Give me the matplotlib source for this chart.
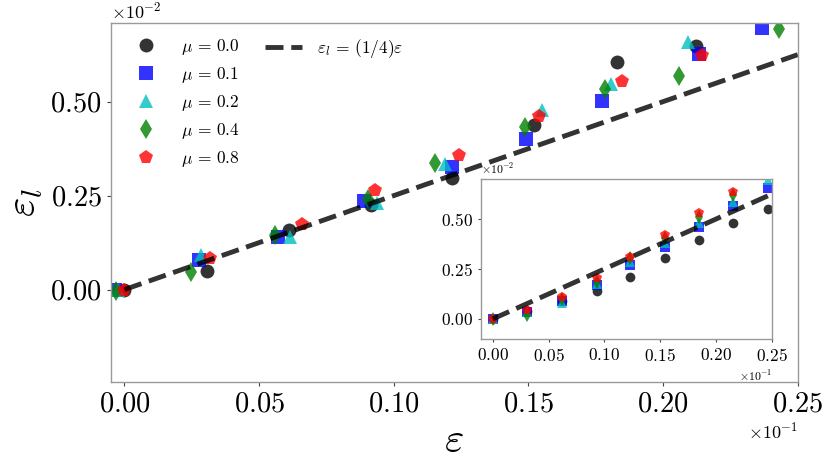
import numpy as np
import matplotlib
matplotlib.use("Agg")
import matplotlib.pyplot as plt
from matplotlib.ticker import ScalarFormatter
from matplotlib.lines import Line2D

plt.rcParams['font.family'] = 'serif'
plt.rcParams['font.serif'] = ['cmr10', 'DejaVu Serif']
plt.rcParams['mathtext.fontset'] = 'cm'
plt.rcParams['axes.formatter.use_mathtext'] = True
plt.rcParams['axes.unicode_minus'] = False

# ---- data (x in units of 1e-1, y in units of 1e-2) ----
mu_labels = [r'$\mu\,=\,0.0$', r'$\mu\,=\,0.1$', r'$\mu\,=\,0.2$', r'$\mu\,=\,0.4$', r'$\mu\,=\,0.8$']
colors = ['black', 'blue', 'c', 'g', 'r']
markers = ['o', 's', '^', 'd', 'p']

# main panel
main_x_mu00 = [0.0, 0.0308, 0.0612, 0.0915, 0.1215, 0.152, 0.1828, 0.2122]
main_y_mu00 = [0.0, 0.050, 0.158, 0.224, 0.296, 0.439, 0.606, 0.648]
main_x_mu01 = [-0.0035, 0.0277, 0.057, 0.089, 0.1215, 0.149, 0.1774, 0.2133, 0.2368]
main_y_mu01 = [0.0, 0.078, 0.140, 0.236, 0.326, 0.401, 0.501, 0.626, 0.695]
main_x_mu02 = [-0.0025, 0.0285, 0.0615, 0.0937, 0.119, 0.155, 0.1805, 0.2094]
main_y_mu02 = [0.0, 0.092, 0.140, 0.231, 0.335, 0.479, 0.548, 0.659]
main_x_mu04 = [-0.0032, 0.0246, 0.056, 0.0906, 0.1153, 0.1487, 0.1784, 0.206, 0.243]
main_y_mu04 = [-0.005, 0.047, 0.145, 0.241, 0.336, 0.433, 0.534, 0.568, 0.693]
main_x_mu08 = [0.0, 0.0316, 0.0658, 0.093, 0.1242, 0.154, 0.1846, 0.2146]
main_y_mu08 = [0.0, 0.085, 0.174, 0.264, 0.357, 0.461, 0.555, 0.623]

# inset panel
inset_x = [0.0, 0.031, 0.062, 0.093, 0.123, 0.154, 0.185, 0.215, 0.246]
inset_y_mu00 = [0.0, 0.040, 0.090, 0.142, 0.210, 0.303, 0.395, 0.478, 0.548]
inset_y_mu01 = [0.0, 0.037, 0.092, 0.170, 0.270, 0.360, 0.460, 0.565, 0.653]
inset_y_mu02 = [0.0, 0.035, 0.078, 0.175, 0.287, 0.380, 0.480, 0.583, 0.695]
inset_y_mu04 = [0.0, 0.020, 0.100, 0.187, 0.305, 0.403, 0.512, 0.620]
inset_y_mu08 = [0.0, 0.045, 0.108, 0.203, 0.312, 0.420, 0.528, 0.637]

line_x = [0.0, 0.25]
line_slope = 0.25

main_x = [main_x_mu00, main_x_mu01, main_x_mu02, main_x_mu04, main_x_mu08]
main_y = [main_y_mu00, main_y_mu01, main_y_mu02, main_y_mu04, main_y_mu08]
inset_y = [inset_y_mu00, inset_y_mu01, inset_y_mu02, inset_y_mu04, inset_y_mu08]

XS, YS = 1e-1, 1e-2

fig = plt.figure(figsize=(8.3, 4.71), dpi=100, facecolor='white')
ax = fig.add_axes([0.1337, 0.1896, 0.8274, 0.7622])

handles = []
for xs, ys, c, m, lab in zip(main_x, main_y, colors, markers, mu_labels):
    h, = ax.plot(np.array(xs) * XS, np.array(ys) * YS, linestyle='none', marker=m,
                 color=c, alpha=0.8, markersize=10, markeredgewidth=0, label=lab)
    handles.append(h)
lx = np.array(line_x) * XS
ln, = ax.plot(lx, line_slope * lx, '--', color='black', alpha=0.8, lw=3.5,
              label=r'$\varepsilon_l\,=\,(1/4)\varepsilon$')

ax.set_xlim(-0.0005, 0.025)
ax.set_ylim(-0.00245, 0.0071)
ax.set_xticks(np.array([0.0, 0.05, 0.10, 0.15, 0.20, 0.25]) * XS)
ax.set_yticks(np.array([0.0, 0.25, 0.50]) * YS)

for axis, p in ((ax.xaxis, -1), (ax.yaxis, -2)):
    f = ScalarFormatter(useMathText=True)
    f.set_powerlimits((p, p))
    axis.set_major_formatter(f)

ax.tick_params(labelsize=20.5, length=3, width=0.8, color='#444444')
ax.xaxis.get_offset_text().set_fontsize(13)
ax.yaxis.get_offset_text().set_fontsize(13)
for s in ax.spines.values():
    s.set_color('#999999')
    s.set_linewidth(1.0)

ax.set_xlabel(r'$\varepsilon$', fontsize=30)
ax.set_ylabel(r'$\varepsilon_l$', fontsize=30)

leg1 = ax.legend(handles=handles, loc='upper left', bbox_to_anchor=(0.004, 1.0),
                 frameon=False, fontsize=12.5, handletextpad=1.0, borderaxespad=0.45,
                 labelspacing=0.45)
ax.add_artist(leg1)
ax.legend(handles=[ln], loc='upper left', bbox_to_anchor=(0.2024, 1.0), frameon=False,
          fontsize=12.5, handlelength=2.15, handletextpad=0.85, borderaxespad=0.45)

# inset
ins = fig.add_axes([0.5795, 0.2803, 0.3506, 0.3397])
for ys, c, m in zip(inset_y, colors, markers):
    ins.plot(np.array(inset_x[:len(ys)]) * XS, np.array(ys) * YS, linestyle='none',
             marker=m, color=c, alpha=0.8, markersize=7, markeredgewidth=0)
ins.plot(lx, line_slope * lx, '--', color='black', alpha=0.8, lw=3.5)
ins.set_xlim(-0.00105, 0.025)
ins.set_ylim(-0.001, 0.007)
ins.set_xticks(np.array([0.0, 0.05, 0.10, 0.15, 0.20, 0.25]) * XS)
ins.set_yticks(np.array([0.0, 0.25, 0.50]) * YS)
for axis, p in ((ins.xaxis, -1), (ins.yaxis, -2)):
    f = ScalarFormatter(useMathText=True)
    f.set_powerlimits((p, p))
    axis.set_major_formatter(f)
ins.tick_params(labelsize=12.5, length=2.5, width=0.8, color='#444444')
ins.xaxis.get_offset_text().set_fontsize(8.5)
ins.yaxis.get_offset_text().set_fontsize(8.5)
for s in ins.spines.values():
    s.set_color('#999999')
    s.set_linewidth(1.0)

fig.savefig('out.png', dpi=100, facecolor='white')
